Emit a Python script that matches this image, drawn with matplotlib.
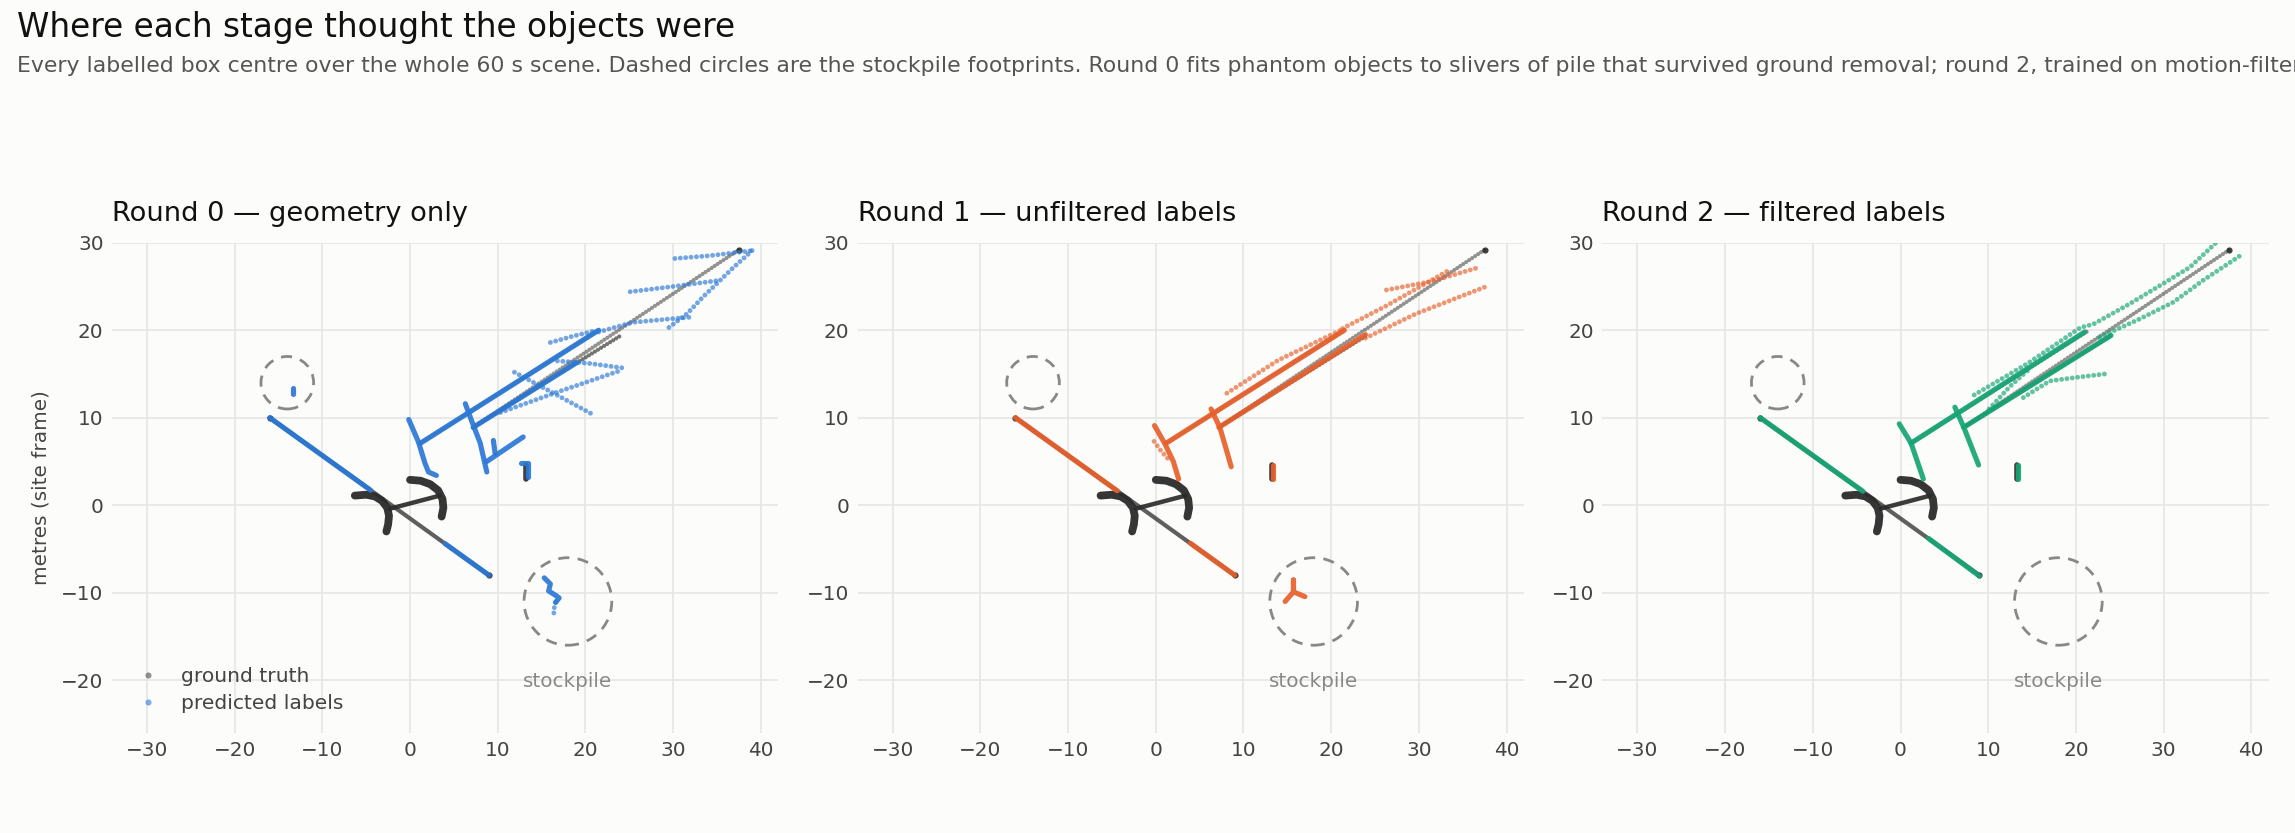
import matplotlib.pyplot as plt
from matplotlib.lines import Line2D
from matplotlib.patches import Circle

# ============================
# DATA (metres, site frame)
# ============================
# ground truth tracks, same in every panel
gt_haul = ([-16, 9], [10, -8])
gt_arc_left = ([-6.3, -5.0, -4.0, -3.2, -2.6, -2.4, -2.5, -2.7],
               [1.1, 1.2, 1.0, 0.5, -0.3, -1.2, -2.2, -3.0])
gt_arc_right = ([0.0, 1.2, 2.3, 3.2, 3.7, 3.8, 3.6],
                [2.9, 2.8, 2.4, 1.7, 0.7, -0.3, -1.3])
gt_link = ([-2.3, 3.4], [-0.4, 1.1])
gt_parked = ([13.25, 13.25], [3.0, 4.6])
gt_upper = ([1.2, 21.5], [7.1, 20.0])
gt_lower = ([7.2, 24.2], [8.9, 19.5])
gt_long = ([7.2, 37.5], [8.9, 29.2])
gt_dwell_x = [-16, 9, 37.5]
gt_dwell_y = [10, -8, 29.2]

# stockpile footprints
pile_x = [-14, 18]
pile_y = [14, -11]
pile_r = [3, 5]

# round 0 — geometry only
r0_dense = [
    ([-16, -4.5], [10, 1.72]),
    ([4.0, 9.0], [-4.4, -8.0]),
    ([1.2, 21.5], [7.1, 20.0]),
    ([7.2, 19.0], [8.9, 16.3]),
    ([-0.15, 0.95, 1.7, 2.1, 3.0], [9.8, 7.25, 4.8, 3.8, 3.4]),
    ([6.3, 7.0, 8.0, 8.75], [11.6, 9.7, 7.1, 3.8]),
    ([8.75, 12.9], [5.0, 7.8]),
    ([9.5, 9.7], [7.4, 5.9]),
    ([12.7, 13.5, 13.5], [4.8, 4.8, 3.2]),
    ([-13.3, -13.3], [12.7, 13.4]),
    ([15.3, 16.0, 15.8, 16.6, 17.0, 16.6], [-8.3, -9.0, -9.8, -10.3, -10.6, -11.1]),
]
r0_sparse = [
    ([16.6, 16.4, 16.4], [-11.1, -11.9, -12.6]),
    ([30.2, 34.0, 38.2, 39.0], [28.2, 28.5, 29.0, 29.1]),
    ([39.0, 36.9, 33.4, 31.6, 29.5], [29.1, 27.2, 23.8, 21.9, 20.3]),
    ([25.1, 30.0, 35.3], [24.4, 25.0, 25.7]),
    ([21.5, 25.4, 29.7, 32.1], [19.8, 20.9, 21.3, 21.5]),
    ([16.0, 18.5, 21.3], [18.6, 19.3, 20.0]),
    ([16.8, 20.5, 24.2], [16.5, 16.2, 15.7]),
    ([10.3, 17.0, 24.0], [10.6, 13.0, 15.4]),
    ([11.9, 16.0, 20.6], [15.2, 13.0, 10.5]),
]

# round 1 — unfiltered labels
r1_dense = [
    ([-16, -4.4], [10, 1.65]),
    ([3.95, 9.0], [-4.35, -8.0]),
    ([1.2, 21.5], [7.1, 20.0]),
    ([7.2, 23.9], [8.9, 19.5]),
    ([-0.15, 1.0, 2.0, 2.6], [9.1, 7.1, 5.0, 3.0]),
    ([6.3, 7.3, 8.0, 8.6], [11.0, 8.9, 6.5, 4.4]),
    ([13.4, 13.4], [3.0, 4.6]),
    ([-13.25, -13.15], [13.0, 13.0]),
    ([14.75, 15.7, 15.7, 15.7, 17.0], [-11.0, -9.9, -8.55, -9.9, -10.45]),
]
r1_sparse = [
    ([-0.2, 0.6, 1.4], [7.3, 6.2, 5.3]),
    ([8.1, 14.0, 21.5], [12.8, 16.6, 20.2]),
    ([26.3, 31.5, 36.9], [24.6, 25.6, 27.2]),
    ([23.9, 29.7, 37.7], [19.1, 21.9, 25.0]),
    ([21.3, 26.3, 30.0, 33.5], [20.2, 22.8, 24.9, 26.9]),
]

# round 2 — filtered labels
r2_dense = [
    ([-16, -4.3], [10, 1.6]),
    ([3.2, 9.0], [-3.8, -8.1]),
    ([1.2, 21.0], [7.1, 19.8]),
    ([7.2, 24.0], [8.9, 19.4]),
    ([-0.15, 1.2, 2.6], [9.3, 7.1, 3.0]),
    ([6.2, 7.3, 8.9], [11.2, 8.7, 4.6]),
    ([13.4, 13.4], [3.0, 4.6]),
]
r2_sparse = [
    ([8.4, 14.5, 20.5, 22.0, 26.1, 29.9, 33.0, 36.3],
     [12.6, 16.2, 20.3, 20.7, 23.0, 25.3, 27.2, 30.3]),
    ([22.7, 27.3, 31.1, 34.5, 39.0], [19.2, 21.3, 23.2, 25.7, 28.7]),
    ([14.0, 17.0, 20.0, 23.3], [12.3, 14.2, 14.6, 15.0]),
    ([10.1, 12.5, 14.5], [11.0, 13.6, 15.4]),
]

titles = ["Round 0 — geometry only", "Round 1 — unfiltered labels",
          "Round 2 — filtered labels"]
colors = ["#2a78d6", "#e8602c", "#16a575"]
rounds = [(r0_dense, r0_sparse), (r1_dense, r1_sparse), (r2_dense, r2_sparse)]

# ============================
# STYLE
# ============================
BG = "#fcfcfa"
GT = "#2b2b2b"
TXT = "#444444"
dotted = dict(ls=(0, (0.01, 1.1)), dash_capstyle="round", lw=1.75)
gt_dotted = dict(ls=(0, (0.01, 0.85)), dash_capstyle="round", lw=1.5)
solid = dict(solid_capstyle="round", solid_joinstyle="round")

fig = plt.figure(figsize=(11.475, 4.165), dpi=200, facecolor=BG)
fig.text(0.0076, 0.9556, "Where each stage thought the objects were",
         fontsize=11.8, color="#111111", va="baseline")
fig.text(0.0076, 0.9136,
         "Every labelled box centre over the whole 60 s scene. Dashed circles are the "
         "stockpile footprints. Round 0 fits phantom objects to slivers of pile that "
         "survived ground removal; round 2, trained on motion-filtered labels, keeps "
         "only what actually moves.",
         fontsize=7.95, color="#555555", va="baseline")

lefts = [0.04876, 0.3737, 0.6982]

for i, (left, title, col, (dense, sparse)) in enumerate(zip(lefts, titles, colors, rounds)):
    ax = fig.add_axes([left, 0.1204, 0.2904, 0.5882])
    ax.set_facecolor(BG)
    for s in ax.spines.values():
        s.set_visible(False)
    ax.grid(True, color="#e6e6e6", lw=0.6)
    ax.set_axisbelow(True)

    # ground truth
    ax.plot(*gt_long, color=GT, alpha=0.5, zorder=2, **gt_dotted)
    ax.plot(*gt_upper, color=GT, alpha=0.5, zorder=2, **gt_dotted)
    ax.plot(*gt_lower, color=GT, alpha=0.65, zorder=2, **gt_dotted)
    ax.plot(*gt_haul, color=GT, alpha=0.75, lw=1.5, zorder=2, **solid)
    ax.plot(*gt_link, color=GT, alpha=0.92, lw=1.6, zorder=2, **solid)
    ax.plot(*gt_arc_left, color=GT, alpha=0.95, lw=2.8, zorder=2, **solid)
    ax.plot(*gt_arc_right, color=GT, alpha=0.95, lw=2.8, zorder=2, **solid)
    ax.plot(*gt_parked, color=GT, alpha=0.9, lw=2.0, zorder=2, **solid)
    ax.scatter(gt_dwell_x, gt_dwell_y, s=5, color=GT, alpha=0.9, lw=0, zorder=2)

    # predicted labels
    for xs, ys in sparse:
        ax.plot(xs, ys, color=col, alpha=0.66, zorder=3, **dotted)
    for xs, ys in dense:
        ax.plot(xs, ys, color=col, alpha=0.92, lw=1.85, zorder=3, **solid)

    # stockpiles
    for cx, cy, r in zip(pile_x, pile_y, pile_r):
        ax.add_patch(Circle((cx, cy), r, fill=False, ec="#888888", lw=1.0,
                            ls=(0, (4, 3)), zorder=4))
    ax.text(pile_x[1], pile_y[1] - pile_r[1] - 4.2, "stockpile", ha="center",
            va="center", fontsize=7.2, color="#888888")

    ax.set_xlim(-34, 42)
    ax.set_ylim(-26, 30)
    ax.set_xticks(range(-30, 41, 10))
    ax.set_yticks(range(-20, 31, 10))
    ax.tick_params(length=0, labelsize=7.2, labelcolor=TXT, pad=3)
    ax.set_title(title, loc="left", fontsize=9.8, color="#111111", pad=8)

    if i == 0:
        ax.set_ylabel("metres (site frame)", fontsize=7.2, color=TXT, labelpad=4)
        handles = [
            Line2D([], [], marker="o", ls="none", color=GT, alpha=0.5,
                   markersize=2.2, markeredgewidth=0),
            Line2D([], [], marker="o", ls="none", color=col, alpha=0.6,
                   markersize=2.2, markeredgewidth=0),
        ]
        ax.legend(handles, ["ground truth", "predicted labels"], loc="lower left",
                  frameon=False, fontsize=7.3, labelcolor=TXT, handlelength=1.66,
                  borderaxespad=0.55, labelspacing=0.4)

fig.savefig("out.png", dpi=200, facecolor=BG)
